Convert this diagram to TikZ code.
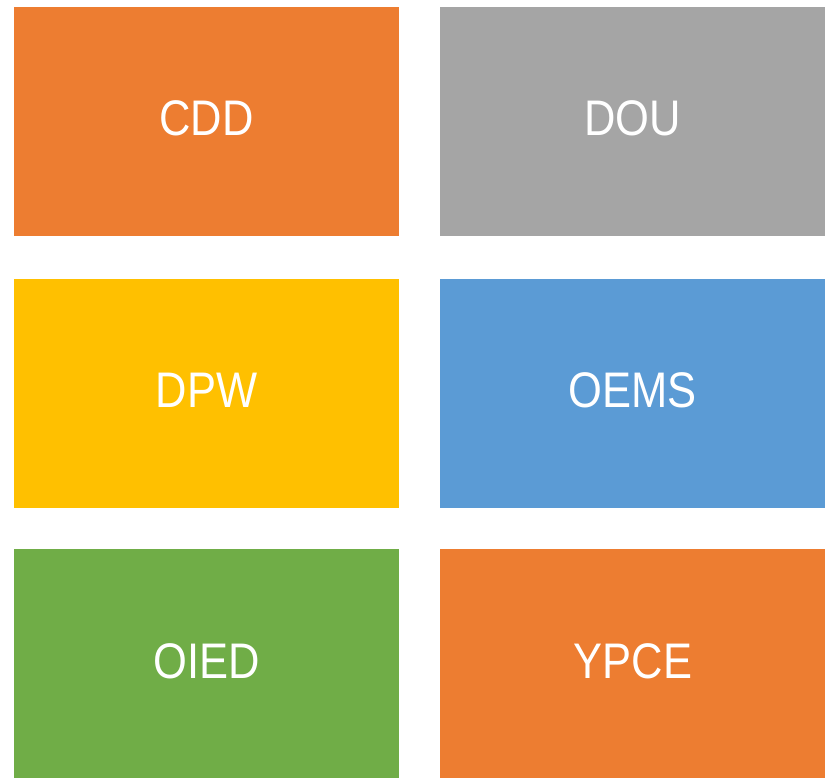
\documentclass[tikz,border=0pt]{standalone}
\usepackage{fontspec}
\setmainfont{Liberation Sans}
\newfontfamily\tilefont[FakeStretch=0.87]{Liberation Sans}
\usetikzlibrary{positioning}

\definecolor{tileorange}{HTML}{ED7D31}
\definecolor{tilegrey}{HTML}{A5A5A5}
\definecolor{tileyellow}{HTML}{FFC000}
\definecolor{tileblue}{HTML}{5B9BD5}
\definecolor{tilegreen}{HTML}{70AD47}

\tikzset{
  tile/.style={fill=#1, minimum width=385pt, minimum height=229pt,
    inner sep=0pt, text depth=5pt, text=white,
    font=\tilefont\fontsize{50}{50}\selectfont}
}

\begin{document}
\begin{tikzpicture}[x=1pt,y=-1pt]
  \useasboundingbox (0,0) rectangle (825,777);

  % top row
  \node[tile=tileorange] (cdd) at (206.4,121) {CDD};
  \node[tile=tilegrey]   (dou) at (632.9,121) {DOU};

  % middle row
  \node[tile=tileyellow] (dpw)  at (206.4,393) {DPW};
  \node[tile=tileblue]   (oems) at (632.9,393) {OEMS};

  % bottom row
  \node[tile=tilegreen]  (oied) at (206.4,663.5) {OIED};
  \node[tile=tileorange] (ypce) at (632.9,663.5) {YPCE};
\end{tikzpicture}
\end{document}
